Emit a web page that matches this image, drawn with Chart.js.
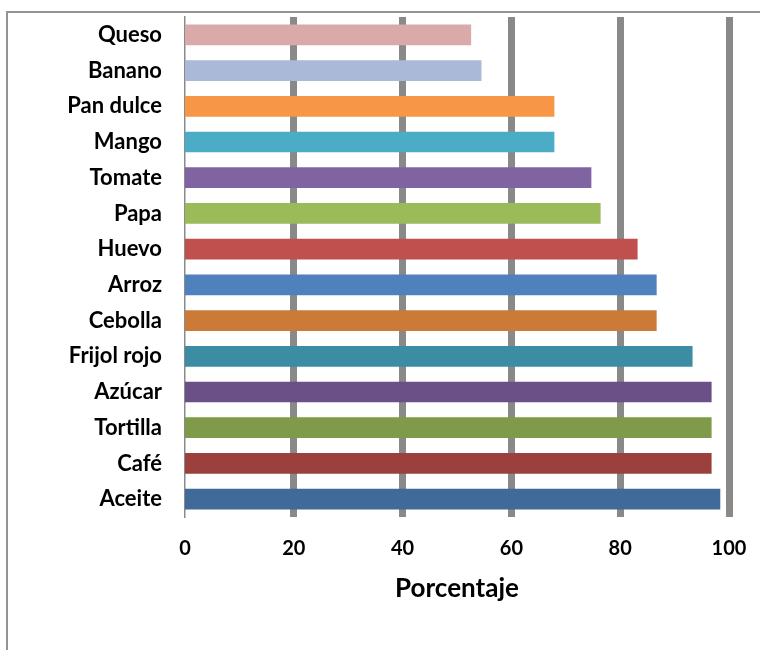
<!DOCTYPE html>
<html>
<head>
<meta charset="utf-8">
<script src="https://cdn.jsdelivr.net/npm/chart.js@4.4.1/dist/chart.umd.min.js"></script>
<style>
html,body{margin:0;padding:0;background:#fff;}
#wrap{width:760px;height:650px;position:relative;}
</style>
</head>
<body>
<div id="wrap"><canvas id="c" width="760" height="650"></canvas></div>
<script>
const categories = ["Queso","Banano","Pan dulce","Mango","Tomate","Papa","Huevo","Arroz","Cebolla","Frijol rojo","Azúcar","Tortilla","Café","Aceite"];
const percentages = [52.6,54.5,67.9,67.9,74.7,76.4,83.2,86.7,86.7,93.3,96.8,96.8,96.8,98.4];
const xTicks = [0,20,40,60,80,100];
const barColors = ["#DAA9A9","#AAB9D7","#F79646","#4BACC6","#8064A2","#9BBB59","#C0504D","#4F81BD","#CC7A38","#3C8CA3","#6A5087","#7F9A48","#9C403D","#3F6A9A"];
const axisTitle = "Porcentaje";

const framePlugin = {
  id: 'frame',
  beforeDraw(chart){
    const c = chart.ctx;
    c.save();
    c.fillStyle = '#fff';
    c.fillRect(0,0,chart.width,chart.height);
    c.strokeStyle = '#949494';
    c.lineWidth = 2;
    c.beginPath();
    c.moveTo(7, chart.height);
    c.lineTo(7, 12);
    c.lineTo(chart.width, 12);
    c.stroke();
    c.restore();
  }
};

new Chart(document.getElementById('c'), {
  type: 'bar',
  data: {
    labels: categories,
    datasets: [{
      data: percentages,
      backgroundColor: barColors,
      borderWidth: 0,
      barPercentage: 0.58,
      categoryPercentage: 1.0
    }]
  },
  options: {
    indexAxis: 'y',
    responsive: false,
    animation: false,
    devicePixelRatio: 1,
    layout: { padding: { top: 17, right: 31, bottom: 0, left: 0 } },
    plugins: { legend: { display: false }, tooltip: { enabled: false } },
    scales: {
      x: {
        min: 0, max: 100,
        afterBuildTicks(scale){ scale.ticks = xTicks.map(v => ({value: v})); },
        afterFit(scale){ scale.height = 133; },
        grid: {
          drawTicks: true,
          tickLength: 20,
          tickColor: 'rgba(0,0,0,0)',
          color: '#898989',
          lineWidth: (ctx) => (ctx.tick && ctx.tick.value === 0) ? 0 : 7
        },
        border: { display: false },
        ticks: {
          color: '#000',
          padding: 0,
          font: { family: 'Lato', size: 20, weight: 'bold' }
        },
        title: {
          display: true,
          text: axisTitle,
          color: '#000',
          padding: { top: 0, bottom: 46 },
          font: { family: 'Lato', size: 26, weight: 'bold' }
        }
      },
      y: {
        afterFit(scale){ scale.width = 185; },
        grid: {
          display: true,
          drawOnChartArea: false,
          drawTicks: true,
          tickLength: 23,
          color: 'rgba(0,0,0,0)',
          tickColor: 'rgba(0,0,0,0)'
        },
        border: { display: true, color: '#8a8a8a', width: 1.5 },
        ticks: {
          color: '#000',
          padding: 0,
          font: { family: 'Lato', size: 22, weight: 'bold' }
        }
      }
    }
  },
  plugins: [framePlugin]
});
</script>
</body>
</html>
